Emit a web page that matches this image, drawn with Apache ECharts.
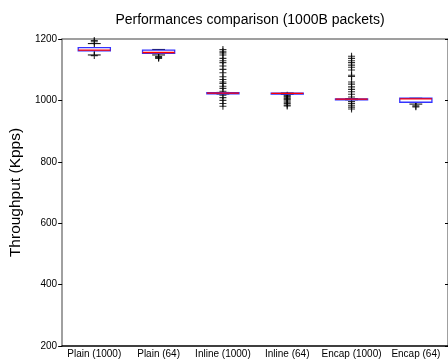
<!DOCTYPE html>
<html>
<head>
<meta charset="utf-8">
<script src="https://cdn.jsdelivr.net/npm/echarts@6/dist/echarts.min.js"></script>
<style>
  html, body { margin: 0; padding: 0; background: #fff; }
  #main { width: 448px; height: 362px; }
</style>
</head>
<body>
<div id="main"></div>
<script>
// categories on the x axis
var categories = ["Plain (1000)", "Plain (64)", "Inline (1000)", "Inline (64)", "Encap (1000)", "Encap (64)"];

// box stats per category: [lower whisker, q1, median, q3, upper whisker]
var boxStats = [
  [1148, 1161, 1164, 1172, 1185],
  [1148, 1153, 1156, 1164, 1166],
  [1021, 1022, 1024, 1025, 1026],
  [1020, 1021, 1023, 1024, 1024],
  [1002, 1003, 1004, 1005, 1006],
  [988, 994, 1005, 1007, 1007]
];

// outliers per category
var plain1000Out = [1195, 1191, 1146];
var plain64Out = [1143, 1140, 1137];
var inline1000Out = [1166, 1160, 1155, 1148, 1137, 1129, 1123, 1112, 1101, 1090, 1077,
  1068, 1060, 1055, 1046, 1039, 1030, 1017, 1009, 1000, 990, 981];
var inline64Out = [1017, 1014, 1011, 1008, 1005, 1002, 998, 994, 990, 985, 982];
var encap1000Out = [1144, 1137, 1129, 1123, 1115, 1108, 1099, 1082, 1078, 1060, 1053, 1044,
  1036, 1028, 1020, 1011, 996, 990, 984, 978, 972];
var encap64Out = [982, 979];

var yTicks = { min: 200, max: 1200, interval: 200 };

var outliers = [plain1000Out, plain64Out, inline1000Out, inline64Out, encap1000Out, encap64Out];
var outlierData = [];
outliers.forEach(function(list, i) {
  list.forEach(function(v) { outlierData.push([i, v]); });
});
var boxData = boxStats.map(function(s, i) { return [i].concat(s); });

var font = "Liberation Sans, Arial, Helvetica, sans-serif";
var chart = echarts.init(document.getElementById("main"));

chart.setOption({
  animation: false,
  title: {
    text: "Performances comparison (1000B packets)",
    left: 245,
    textAlign: "center",
    top: 8,
    textStyle: { fontFamily: font, fontSize: 14, fontWeight: "normal", color: "#000" }
  },
  grid: { left: 54, top: 39, width: 396, bottom: 16 },
  xAxis: [
    {
      type: "category",
      data: categories,
      axisLine: { lineStyle: { color: "#000", width: 1.5 } },
      axisTick: { inside: true, alignWithLabel: true, length: 3, lineStyle: { color: "#000" } },
      axisLabel: { fontFamily: font, fontSize: 10, color: "#000", margin: 3, interval: 0 }
    },
    {
      type: "category",
      position: "top",
      data: categories,
      axisLine: { lineStyle: { color: "#808080", width: 1.5 } },
      axisTick: { inside: true, alignWithLabel: true, length: 3, lineStyle: { color: "#000" } },
      axisLabel: { show: false }
    }
  ],
  yAxis: [
    {
      type: "value",
      min: yTicks.min,
      max: yTicks.max,
      interval: yTicks.interval,
      name: "Throughput (Kpps)",
      nameLocation: "middle",
      nameGap: 36,
      nameTextStyle: { fontFamily: font, fontSize: 15.5, color: "#000" },
      splitLine: { show: false },
      axisLine: { show: true, lineStyle: { color: "#808080", width: 1.5 } },
      axisTick: { show: true, length: 4, lineStyle: { color: "#000" } },
      axisLabel: { fontFamily: font, fontSize: 10, color: "#000", margin: 5, formatter: function(v) { return String(v); } }
    },
    {
      type: "value",
      position: "right",
      min: yTicks.min,
      max: yTicks.max,
      interval: yTicks.interval,
      splitLine: { show: false },
      axisLine: { show: true, lineStyle: { color: "#808080", width: 1.5 } },
      axisTick: { show: true, inside: true, length: 3, lineStyle: { color: "#000" } },
      axisLabel: { show: false }
    }
  ],
  series: [
    {
      type: "scatter",
      data: outlierData,
      symbol: "path://M4.2,0H5.8V4.2H10V5.8H5.8V10H4.2V5.8H0V4.2H4.2Z",
      symbolSize: 7,
      itemStyle: { color: "#000" },
      z: 2
    },
    {
      type: "custom",
      data: boxData,
      z: 3,
      renderItem: function(params, api) {
        var x = api.value(0);
        var band = api.size([1, 0])[0];
        var half = band * 0.25;
        var cap = band * 0.1;
        var lo = api.coord([x, api.value(1)]);
        var q1 = api.coord([x, api.value(2)]);
        var med = api.coord([x, api.value(3)]);
        var q3 = api.coord([x, api.value(4)]);
        var hi = api.coord([x, api.value(5)]);
        var cx = lo[0];
        var black = { stroke: "#000", lineWidth: 1 };
        return {
          type: "group",
          children: [
            { type: "line", shape: { x1: cx, y1: q3[1], x2: cx, y2: hi[1] }, style: black },
            { type: "line", shape: { x1: cx, y1: q1[1], x2: cx, y2: lo[1] }, style: black },
            { type: "line", shape: { x1: cx - cap, y1: hi[1], x2: cx + cap, y2: hi[1] }, style: black },
            { type: "line", shape: { x1: cx - cap, y1: lo[1], x2: cx + cap, y2: lo[1] }, style: black },
            {
              type: "rect",
              shape: { x: cx - half, y: q3[1], width: half * 2, height: Math.max(q1[1] - q3[1], 1) },
              style: { fill: "none", stroke: "#3333ff", lineWidth: 1.3 }
            },
            {
              type: "line",
              shape: { x1: cx - half, y1: med[1], x2: cx + half, y2: med[1] },
              style: { stroke: "#ff0000", lineWidth: 1.3 }
            }
          ]
        };
      }
    }
  ]
});
</script>
</body>
</html>
